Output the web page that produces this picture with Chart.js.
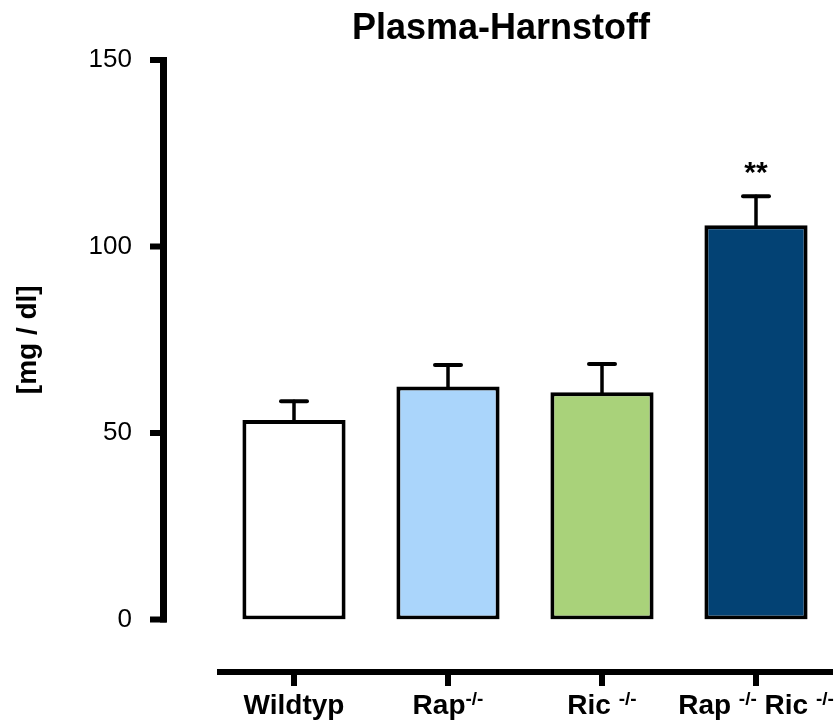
<!DOCTYPE html>
<html>
<head>
<meta charset="utf-8">
<script src="https://cdn.jsdelivr.net/npm/chart.js@4/dist/chart.umd.min.js"></script>
<style>
  html, body { margin: 0; padding: 0; background: #ffffff; }
  #wrap { width: 840px; height: 720px; position: relative; }
</style>
</head>
<body>
<div id="wrap"><canvas id="c"></canvas></div>
<script>
// ---- data ----
const chartTitle = "Plasma-Harnstoff";
const yAxisTitle = "[mg / dl]";
const categories = ["Wildtyp", "Rap-/-", "Ric -/-", "Rap -/- Ric -/-"];
const means = [53.5, 62.5, 60.9, 105.7];
const sems = [5.0, 5.7, 7.6, 7.8];
const significance = ["", "", "", "**"];
const yTicks = [0, 50, 100, 150];

// ---- styles ----
const barColors = ["#ffffff", "#aad5fb", "#a9d27a", "#034274"];
const FONT = "'Liberation Sans', Arial, sans-serif";

function drawCategoryLabel(ctx, label, cx, baseline) {
  const parts = label.split(/(-\/-)/).filter(s => s.length > 0);
  const mainFont = "bold 28px " + FONT;
  const supFont = "bold 19px " + FONT;
  let total = 0;
  const widths = parts.map(p => {
    ctx.font = (p === "-/-") ? supFont : mainFont;
    const w = ctx.measureText(p).width;
    total += w;
    return w;
  });
  let x = cx - total / 2;
  ctx.textAlign = "left";
  ctx.textBaseline = "alphabetic";
  ctx.fillStyle = "#000";
  parts.forEach((p, i) => {
    if (p === "-/-") {
      ctx.font = supFont;
      ctx.fillText(p, x, baseline - 9);
    } else {
      ctx.font = mainFont;
      ctx.fillText(p, x, baseline);
    }
    x += widths[i];
  });
}

const customDraw = {
  id: "customDraw",
  afterDatasetsDraw(chart) {
    const ctx = chart.ctx;
    const y = chart.scales.y;
    const meta = chart.getDatasetMeta(0);
    ctx.save();
    ctx.strokeStyle = "#000";
    ctx.lineCap = "round";
    meta.data.forEach((bar, i) => {
      const x = bar.x;
      const yBar = y.getPixelForValue(means[i]);
      const yTop = y.getPixelForValue(means[i] + sems[i]);
      ctx.lineWidth = 3.5;
      ctx.beginPath();
      ctx.moveTo(x, yBar);
      ctx.lineTo(x, yTop);
      ctx.stroke();
      ctx.lineWidth = 4;
      ctx.beginPath();
      ctx.moveTo(x - 13, yTop);
      ctx.lineTo(x + 13, yTop);
      ctx.stroke();
      if (significance[i]) {
        ctx.font = "bold 30px " + FONT;
        ctx.textAlign = "center";
        ctx.textBaseline = "alphabetic";
        ctx.fillStyle = "#000";
        ctx.fillText(significance[i], x, yTop - 14);
      }
    });
    ctx.restore();
  },
  afterDraw(chart) {
    const ctx = chart.ctx;
    const y = chart.scales.y;
    const xs = chart.scales.x;
    ctx.save();
    ctx.strokeStyle = "#000";
    ctx.lineCap = "butt";

    // detached y axis
    const ax = chart.chartArea.left - 53.5;
    const yMin = y.getPixelForValue(yTicks[0]);
    const yMax = y.getPixelForValue(yTicks[yTicks.length - 1]);
    ctx.lineWidth = 7;
    ctx.beginPath();
    ctx.moveTo(ax, yMax - 3);
    ctx.lineTo(ax, yMin + 3);
    ctx.stroke();
    ctx.lineWidth = 6;
    yTicks.forEach(v => {
      const py = y.getPixelForValue(v);
      ctx.beginPath();
      ctx.moveTo(ax - 13.5, py);
      ctx.lineTo(ax + 3, py);
      ctx.stroke();
    });

    // detached x axis
    const axY = yMin + 52.5;
    ctx.lineWidth = 6;
    ctx.beginPath();
    ctx.moveTo(xs.left, axY);
    ctx.lineTo(xs.right, axY);
    ctx.stroke();
    categories.forEach((c, i) => {
      const px = xs.getPixelForValue(i);
      ctx.lineWidth = 6;
      ctx.beginPath();
      ctx.moveTo(px, axY);
      ctx.lineTo(px, axY + 14);
      ctx.stroke();
      drawCategoryLabel(ctx, c, px, axY + 42);
    });

    // title
    ctx.font = "bold 36px " + FONT;
    ctx.textAlign = "center";
    ctx.textBaseline = "alphabetic";
    ctx.fillStyle = "#000";
    ctx.fillText(chartTitle, 501, 39);
    ctx.restore();
  }
};

new Chart(document.getElementById("c"), {
  type: "bar",
  data: {
    labels: categories,
    datasets: [{
      data: means,
      backgroundColor: barColors,
      borderColor: "#000",
      borderWidth: 4,
      borderSkipped: false,
      barPercentage: 0.67,
      categoryPercentage: 1.0
    }]
  },
  options: {
    responsive: true,
    maintainAspectRatio: false,
    animation: false,
    devicePixelRatio: 1,
    layout: { padding: { top: 60, bottom: 100.5, left: 0, right: 7 } },
    plugins: {
      legend: { display: false },
      title: { display: false },
      tooltip: { enabled: false }
    },
    scales: {
      x: {
        display: false,
        offset: true
      },
      y: {
        min: 0,
        max: 150,
        afterBuildTicks(scale) { scale.ticks = yTicks.map(v => ({ value: v })); },
        afterFit(scale) {
          scale.width = 217;
          scale.paddingTop = 0;
          scale.paddingBottom = 0;
        },
        grid: { display: false, drawTicks: false },
        border: { display: false },
        ticks: {
          padding: 85,
          color: "#000",
          font: { family: FONT, size: 26 }
        },
        title: {
          display: true,
          text: yAxisTitle,
          color: "#000",
          font: { family: FONT, size: 28, weight: "bold" },
          padding: { top: 11, bottom: 0 }
        }
      }
    }
  },
  plugins: [customDraw]
});
</script>
</body>
</html>
